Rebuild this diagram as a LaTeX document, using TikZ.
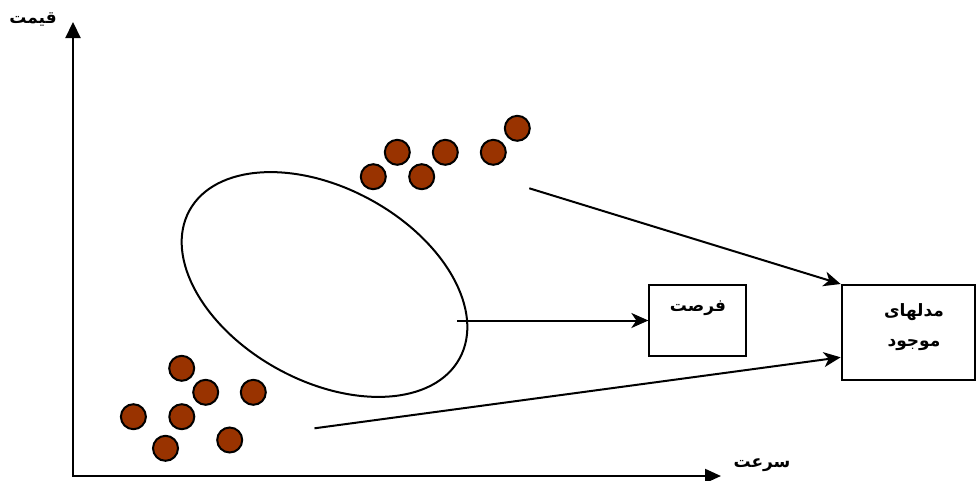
\documentclass[tikz,border=0pt]{standalone}
\usepackage{fontspec}
\usetikzlibrary{arrows.meta,shapes.geometric}
\TeXXeTstate=1
\newfontfamily\arabicfont[Script=Arabic]{DejaVu Sans}
\definecolor{dotbrown}{HTML}{993300}
\tikzset{
  dot/.style={circle,draw=black,fill=dotbrown,line width=2pt,minimum size=25pt,inner sep=0pt},
  box/.style={draw=black,line width=2pt,rectangle,inner sep=0pt},
  conn/.style={line width=2pt,-{Stealth[length=17pt,width=15pt,inset=5pt]}},
  axisline/.style={line width=2.2pt,{Triangle[length=16pt,width=15pt]}-{Triangle[length=16pt,width=14pt]}},
  ftext/.style={font=\arabicfont\bfseries\fontsize{17}{30}\selectfont,inner sep=0pt}
}
\begin{document}
\begin{tikzpicture}[x=1pt,y=-1pt]
\useasboundingbox (0,0) rectangle (976,480);
% axes
\coordinate (origin) at (73,476);
\coordinate (ytip) at (73,22);
\coordinate (xtip) at (721,476);
\draw[axisline] (ytip) -- (origin) -- (xtip);
\node[ftext] (ylab) at (33,20) {\beginR قیمت\endR};
\node[ftext] (xlab) at (762,465) {\beginR سرعت\endR};
% ellipse
\node[draw=black,line width=2pt,ellipse,minimum width=308pt,minimum height=193pt,inner sep=0pt,rotate=-28.7] (opp) at (324.5,284.5) {};
% upper dots
\node[dot] (u1) at (373.3,176.7) {};
\node[dot] (u2) at (397.3,152.3) {};
\node[dot] (u3) at (421.7,176.7) {};
\node[dot] (u4) at (445.3,152.3) {};
\node[dot] (u5) at (493.3,152.3) {};
\node[dot] (u6) at (517.3,128.3) {};
% lower dots
\node[dot] (l1) at (181.7,368.3) {};
\node[dot] (l2) at (205.7,392.3) {};
\node[dot] (l3) at (253.3,392.3) {};
\node[dot] (l4) at (133.4,416.7) {};
\node[dot] (l5) at (181.8,416.7) {};
\node[dot] (l6) at (165.5,448.3) {};
\node[dot] (l7) at (229.7,440) {};
% boxes
\node[box,minimum width=96.7pt,minimum height=71pt] (fursat) at (697.7,320.5) {};
\node[ftext] (fursattext) at (698,308) {\beginR فرصت\endR};
\node[box,minimum width=133.3pt,minimum height=95pt] (models) at (908.3,332.5) {};
\node[ftext,align=center] (modelstext) at (914,327) {\beginR مدلهای\endR\\\beginR موجود\endR};
% connectors
\coordinate (ustart) at (529.3,188.3);
\coordinate (mstart) at (457.3,320.5);
\coordinate (lstart) at (314.5,428.3);
\draw[conn] (ustart) -- (models.north west);
\draw[conn] (mstart) -- (fursat.west);
\draw[conn] (lstart) -- ([yshift=-24.8pt]models.west);
\end{tikzpicture}
\end{document}
